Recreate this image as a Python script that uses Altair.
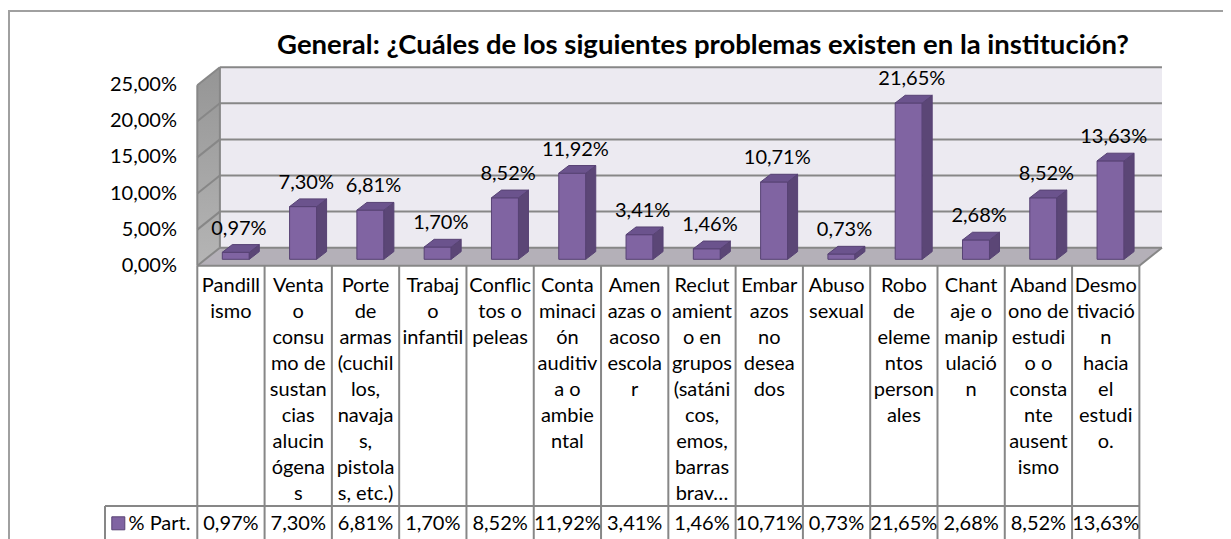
import altair as alt
import pandas as pd

# ---------------- data ----------------
title_text = "General: ¿Cuáles de los siguientes problemas existen en la institución?"
series_name = "% Part."
categories = [
    "Pandillismo",
    "Venta o consumo de sustancias alucinógenas",
    "Porte de armas (cuchillos, navajas, pistolas, etc.)",
    "Trabajo infantil",
    "Conflictos o peleas",
    "Contaminación auditiva o ambiental",
    "Amenazas o acoso escolar",
    "Reclutamiento en grupos (satánicos, emos, barras brav…",
    "Embarazos no deseados",
    "Abuso sexual",
    "Robo de elementos personales",
    "Chantaje o manipulación",
    "Abandono de estudio o constante ausentismo",
    "Desmotivación hacia el estudio.",
]
# category labels as wrapped in the data table
label_lines = [
    ["Pandill", "ismo"],
    ["Venta", "o", "consu", "mo de", "sustan", "cias", "alucin", "ógena", "s"],
    ["Porte", "de", "armas", "(cuchil", "los,", "navaja", "s,", "pistola", "s, etc.)"],
    ["Trabaj", "o", "infantil"],
    ["Conflic", "tos o", "peleas"],
    ["Conta", "minaci", "ón", "auditiv", "a o", "ambie", "ntal"],
    ["Amen", "azas o", "acoso", "escola", "r"],
    ["Reclut", "amient", "o en", "grupos", "(satáni", "cos,", "emos,", "barras", "brav…"],
    ["Embar", "azos", "no", "desea", "dos"],
    ["Abuso", "sexual"],
    ["Robo", "de", "eleme", "ntos", "person", "ales"],
    ["Chant", "aje o", "manip", "ulació", "n"],
    ["Aband", "ono de", "estudi", "o o", "consta", "nte", "ausent", "ismo"],
    ["Desmo", "tivació", "n", "hacia", "el", "estudi", "o."],
]
values = [0.97, 7.30, 6.81, 1.70, 8.52, 11.92, 3.41, 1.46, 10.71, 0.73, 21.65, 2.68, 8.52, 13.63]
y_ticks = [0, 5, 10, 15, 20, 25]

# ---------------- geometry (layout constants) ----------------
W, H = 1215, 531
PX0, COLW = 197.3, 67.29      # table left edge, column width (px)
PY0, PPU = 265.7, 7.22        # 0% on front plane, px per percent
N = len(values)

def ux(px):
    return (px - PX0) / COLW

def vy(py):
    return (PY0 - py) / PPU

xs = alt.Scale(domain=[ux(8), ux(8 + W)], nice=False, zero=False)
ys = alt.Scale(domain=[vy(8 + H), vy(8)], nice=False, zero=False)
DXu, DYv = 22.6 / COLW, 18 / PPU          # full depth of the 3D box
VMAX = y_ticks[-1]

FONT = "Lato"
FS = 20
GRID = "#878787"
TBL = "#878787"
FRONT, SIDE, TOP, EDGE = "#8064a2", "#5b4676", "#6b538d", "#574274"

fmt = "replace(format(datum.value, '.2f'), '.', ',') + '%'"


def X(f):
    return alt.X(f, type="quantitative", scale=xs, axis=None)


def Y(f):
    return alt.Y(f, type="quantitative", scale=ys, axis=None)


def segs(rows, color, width):
    df = pd.DataFrame(rows, columns=["x1", "y1", "x2", "y2"])
    return alt.Chart(df).mark_rule(color=color, strokeWidth=width).encode(
        x=X("x1"), y=Y("y1"), x2="x2:Q", y2="y2:Q")


# outer frame
frame = segs([[ux(9), vy(11), ux(1240), vy(11)], [ux(9), vy(10), ux(9), vy(545)]], "#a0a0a0", 2)

# left side wall
side_df = pd.DataFrame({"u": [0, DXu], "lo": [0, DYv], "hi": [VMAX, VMAX + DYv]})
side_wall = alt.Chart(side_df).mark_area(
    orient="vertical",
    color=alt.Gradient(gradient="linear", x1=0, x2=0, y1=0, y2=1,
                       stops=[alt.GradientStop(color="#959595", offset=0),
                              alt.GradientStop(color="#b5b5b5", offset=1)]),
).encode(x=X("u"), y=Y("lo"), y2="hi:Q")

# back wall
back_df = pd.DataFrame({"x1": [DXu], "x2": [N + DXu], "y1": [DYv], "y2": [VMAX + DYv]})
back_wall = alt.Chart(back_df).mark_rect(color="#eceaf1").encode(
    x=X("x1"), x2="x2:Q", y=Y("y1"), y2="y2:Q")

# floor
floor_df = pd.DataFrame({"v": [0, DYv], "a": [0, DXu], "b": [N, N + DXu]})
floor = alt.Chart(floor_df).mark_area(orient="horizontal", color="#b4b0b8").encode(
    y=Y("v"), x=X("a"), x2="b:Q")

grid_rows = [[DXu, t + DYv, N + DXu, t + DYv] for t in y_ticks]
grid_rows += [[0, t, DXu, t + DYv] for t in y_ticks]
grid_rows += [[0, 0, 0, VMAX], [DXu, DYv, DXu, VMAX + DYv], [N, 0, N + DXu, DYv]]
grid = segs(grid_rows, GRID, 2)

# bars (3D faces)
bars_df = pd.DataFrame({"idx": list(range(N)), "value": values})
base = alt.Chart(bars_df).transform_calculate(
    xl=f"datum.idx + {25 / COLW}",
    xr=f"datum.idx + {52 / COLW}",
    yb=f"{6.4 / PPU}",
    yt=f"datum.value + {6.4 / PPU}",
)
front = base.mark_rect(color=FRONT, stroke=EDGE, strokeWidth=1).encode(
    x=X("xl"), x2="xr:Q", y=Y("yb"), y2="yt:Q")
flat = base.transform_calculate(k="[0, 1]").transform_flatten(["k"]).transform_calculate(
    sx=f"datum.xr + datum.k * {10 / COLW}",
    slo=f"datum.yb + datum.k * {7.7 / PPU}",
    shi=f"datum.yt + datum.k * {7.7 / PPU}",
    tx1=f"datum.xl + datum.k * {10 / COLW}",
    tx2=f"datum.xr + datum.k * {10 / COLW}",
)
side = flat.mark_area(orient="vertical", color=SIDE, stroke=EDGE, strokeWidth=1).encode(
    x=X("sx"), y=Y("slo"), y2="shi:Q", detail="idx:N")
top = flat.mark_area(orient="horizontal", color=TOP, stroke=EDGE, strokeWidth=1).encode(
    y=Y("shi"), x=X("tx1"), x2="tx2:Q", detail="idx:N")

labels = alt.Chart(bars_df).transform_calculate(
    lx=f"datum.idx + 0.5 + {8 / COLW}",
    ly=f"datum.value + {(6.4 + 7.7 + 16) / PPU}",
    txt=fmt,
).mark_text(font=FONT, fontSize=FS, color="black", baseline="middle").encode(
    x=X("lx"), y=Y("ly"), text="txt:N")

# y axis labels (front plane)
yl = alt.Chart(pd.DataFrame({"value": y_ticks})).transform_calculate(
    lx=f"{ux(177)}", txt=fmt,
).mark_text(font=FONT, fontSize=FS, color="black", align="right", baseline="middle").encode(
    x=X("lx"), y=Y("value"), text="txt:N")

# title
title = alt.Chart(pd.DataFrame({"t": [title_text]})).transform_calculate(
    tx=f"{ux(703)}", ty=f"{vy(53.5)}",
).mark_text(font=FONT, fontSize=27.5, fontWeight="bold", color="black",
            align="center", baseline="alphabetic").encode(
    x=X("tx"), y=Y("ty"), text="t:N")

# data table
ROW_Y = 506
tbl_rows = [[i, 0, i, vy(545)] for i in range(N + 1)]
tbl_rows += [[0, 0, N, 0], [ux(105), vy(ROW_Y), N, vy(ROW_Y)], [ux(105), vy(ROW_Y), ux(105), vy(545)]]
table_lines = segs(tbl_rows, TBL, 2)

line_rows = [(i, j, t) for i, ls in enumerate(label_lines) for j, t in enumerate(ls)]
lines_df = pd.DataFrame(line_rows, columns=["idx", "line", "t"])
cat_text = alt.Chart(lines_df).transform_calculate(
    cx="datum.idx + 0.5",
    cy=f"{vy(286)} - datum.line * {26 / PPU}",
).mark_text(font=FONT, fontSize=FS, color="black", baseline="middle").encode(
    x=X("cx"), y=Y("cy"), text="t:N")

val_text = alt.Chart(bars_df).transform_calculate(
    cx="datum.idx + 0.5", cy=f"{vy(523.5)}", txt=fmt,
).mark_text(font=FONT, fontSize=FS, color="black", baseline="middle").encode(
    x=X("cx"), y=Y("cy"), text="txt:N")

leg_df = pd.DataFrame({"name": [series_name]})
leg_sq = alt.Chart(leg_df).transform_calculate(
    cx=f"{ux(118.3)}", cy=f"{vy(523.3)}",
).mark_square(size=169, fill=FRONT, stroke=EDGE, strokeWidth=1, opacity=1).encode(
    x=X("cx"), y=Y("cy"))
leg_tx = alt.Chart(leg_df).transform_calculate(
    cx=f"{ux(128.5)}", cy=f"{vy(523.5)}",
).mark_text(font=FONT, fontSize=FS, color="black", align="left", baseline="middle").encode(
    x=X("cx"), y=Y("cy"), text="name:N")

chart = alt.layer(
    frame, side_wall, back_wall, floor, grid, front, side, top, labels, yl, title,
    table_lines, cat_text, val_text, leg_sq, leg_tx,
).properties(width=W, height=H, padding=0, autosize="none", background="white").configure_view(strokeWidth=0)

chart.save("out.html", embed_options={"renderer": "svg", "actions": False})
